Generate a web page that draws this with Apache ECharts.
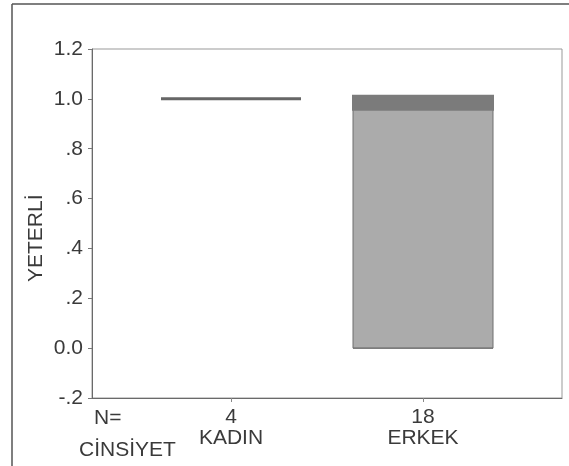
<!DOCTYPE html>
<html>
<head>
<meta charset="utf-8">
<script src="https://cdn.jsdelivr.net/npm/echarts@6/dist/echarts.min.js"></script>
<style>
html,body{margin:0;padding:0;background:#fff;}
#chart{width:569px;height:466px;}
</style>
</head>
<body>
<div id="chart"></div>
<script>
// ---- data ----
var categories = ['KADIN', 'ERKEK'];
var counts = [4, 18];
// [min, Q1, median, Q3, max]
var boxMin = [1, 0];
var boxQ1 = [1, 0];
var boxMedian = [1, 1];
var boxQ3 = [1, 1];
var boxMax = [1, 1];
var yTicks = [-0.2, 0, 0.2, 0.4, 0.6, 0.8, 1.0, 1.2];
var yAxisTitle = 'YETERLİ';
var xAxisTitle = 'CİNSİYET';
var nLabel = 'N=';

var FONT = '"Liberation Sans", Arial, Helvetica, sans-serif';
var TXT = '#3a3a3a';
var FS = 21;

var boxData = categories.map(function (c, i) {
  var item = { value: [boxMin[i], boxQ1[i], boxMedian[i], boxQ3[i], boxMax[i]] };
  if (boxQ3[i] === boxQ1[i]) {
    item.itemStyle = { borderWidth: 3, borderColor: '#666666' };
  }
  return item;
});
var medianData = categories.map(function (c, i) { return [i, boxMedian[i], boxQ1[i], boxQ3[i]]; });

function fmtY(v) {
  if (Math.abs(v) < 1e-9) return '0.0';
  var s = v.toFixed(1);
  if (Math.abs(v) < 1) s = s.replace('0.', '.');
  return s;
}

var chart = echarts.init(document.getElementById('chart'), null, { renderer: 'canvas' });
var option = {
  animation: false,
  backgroundColor: '#ffffff',
  textStyle: { fontFamily: FONT },
  grid: [
    { left: 92, right: 7, top: 49, bottom: 68, show: true, borderColor: '#999999', borderWidth: 1, backgroundColor: 'transparent' },
    { left: 135, right: 50, top: 49, bottom: 68 }
  ],
  xAxis: [
    { type: 'value', gridIndex: 0, min: 0, max: 1,
      axisLine: { show: true, onZero: false, lineStyle: { color: '#6a6a6a', width: 1 } },
      axisTick: { show: false }, axisLabel: { show: false }, splitLine: { show: false } },
    { type: 'category', gridIndex: 1, data: categories,
      axisLine: { show: false, onZero: false },
      axisTick: { show: true, alignWithLabel: true, length: 4, lineStyle: { color: '#888888' } },
      axisLabel: {
        margin: 9, color: TXT, fontSize: FS, lineHeight: 21, fontFamily: FONT,
        formatter: function (v, i) { return counts[i] + '\n' + v; }
      },
      splitLine: { show: false } }
  ],
  yAxis: [
    { type: 'value', gridIndex: 0, min: yTicks[0], max: yTicks[yTicks.length - 1], interval: 0.2,
      axisLine: { show: true, lineStyle: { color: '#6a6a6a', width: 1 } },
      axisTick: { show: true, length: 4, lineStyle: { color: '#777777' } },
      axisLabel: { margin: 9, color: TXT, fontSize: FS, fontFamily: FONT, formatter: fmtY },
      splitLine: { show: false } },
    { type: 'value', gridIndex: 1, min: yTicks[0], max: yTicks[yTicks.length - 1], interval: 0.2, show: false }
  ],
  series: [
    {
      type: 'boxplot', xAxisIndex: 1, yAxisIndex: 1,
      boxWidth: [140, 140],
      itemStyle: { color: '#ababab', borderColor: '#6e6e6e', borderWidth: 1 },
      data: boxData
    },
    {
      type: 'custom', xAxisIndex: 1, yAxisIndex: 1,
      renderItem: function (params, api) {
        var q1 = api.value(2), q3 = api.value(3);
        if (q3 === q1) return null;
        var p = api.coord([api.value(0), api.value(1)]);
        var w = 142;
        return { type: 'rect', shape: { x: p[0] - w / 2, y: p[1] - 4, width: w, height: 16 },
                 style: { fill: '#7b7b7b' } };
      },
      data: medianData,
      z: 5
    }
  ],
  graphic: [
    { type: 'line', shape: { x1: 12, y1: 4, x2: 12, y2: 466 }, style: { stroke: '#555555', lineWidth: 1.5 } },
    { type: 'line', shape: { x1: 12, y1: 4, x2: 569, y2: 4 }, style: { stroke: '#555555', lineWidth: 1.5 } },
    { type: 'text', left: 94, top: 408, style: { text: nLabel, font: FS + 'px ' + FONT, fill: TXT } },
    { type: 'text', left: 79, top: 440, style: { text: xAxisTitle, font: FS + 'px ' + FONT, fill: TXT } },
    { type: 'text', x: 26, y: 282, rotation: Math.PI / 2, style: { text: yAxisTitle, font: FS + 'px ' + FONT, fill: TXT } }
  ]
};
chart.setOption(option);
</script>
</body>
</html>
